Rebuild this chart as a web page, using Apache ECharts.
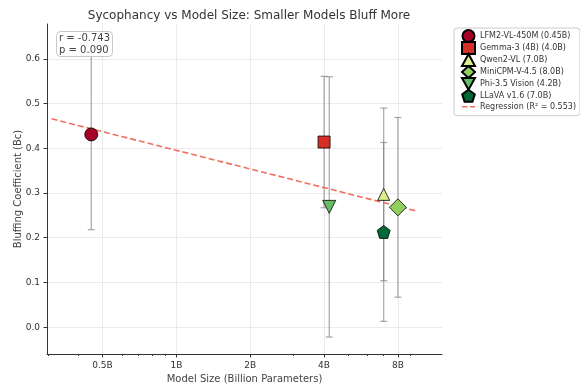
<!DOCTYPE html>
<html>
<head>
<meta charset="utf-8">
<script src="https://cdn.jsdelivr.net/npm/echarts@6/dist/echarts.min.js"></script>
<style>
  html, body { margin: 0; padding: 0; background: #fff; }
  #chart { width: 580px; height: 385px; }
</style>
</head>
<body>
<div id="chart"></div>
<script>
const models = [
  "LFM2-VL-450M (0.45B)",
  "Gemma-3 (4B) (4.0B)",
  "Qwen2-VL (7.0B)",
  "MiniCPM-V-4.5 (8.0B)",
  "Phi-3.5 Vision (4.2B)",
  "LLaVA v1.6 (7.0B)",
];
const sizes = [0.45, 4.0, 7.0, 8.0, 4.2, 7.0];
const bluffing = [0.431, 0.414, 0.297, 0.268, 0.269, 0.213];
const errors = [0.213, 0.147, 0.193, 0.201, 0.291, 0.2];
const colors = ["#a50026", "#d62f27", "#d9ef8b", "#91cf60", "#66bd63", "#006837"];
const symbols = [
  "circle",
  "rect",
  "triangle",
  "diamond",
  "path://M0,0 L100,0 L50,90 Z",
  "path://M50,0 L97.6,34.5 L79.4,90.5 L20.6,90.5 L2.4,34.5 Z",
];
const symbolSizes = [13, 12, 12, 17, 13, 13];

const regX = [0.31, 9.5];
const regY = [0.466, 0.26];

const xMajorTicks = [0.5, 1, 2, 4, 8];
const xMinorTicks = [0.3, 0.4, 0.6, 0.7, 0.8, 0.9, 3, 5, 6, 7, 9];
const yTicks = [0, 0.1, 0.2, 0.3, 0.4, 0.5, 0.6];

const FONT = "DejaVu Sans";
const TEXT = "#333";
const REG_NAME = "Regression (R² = 0.553)";
// dashed-line legend icon, with tiny corner dots to keep its box 13x12
const DASH_ICON =
  "path://M0,5.2h5.5v1.6h-5.5z M8,5.2h5v1.6h-5z M0,0h0.02v0.02h-0.02z M12.98,11.98h0.02v0.02h-0.02z";

const chart = echarts.init(document.getElementById("chart"), null, { renderer: "canvas" });

const errorSeries = {
  type: "custom",
  name: "errors",
  z: 1,
  silent: true,
  data: sizes.map((s, i) => [s, bluffing[i], errors[i]]),
  encode: { x: 0, y: 1 },
  renderItem(params, api) {
    const x = api.value(0);
    const y = api.value(1);
    const e = api.value(2);
    const top = api.coord([x, y + e]);
    const bot = api.coord([x, y - e]);
    const style = { stroke: "rgba(128,128,128,0.7)", lineWidth: 1.2 };
    const cap = 3.5;
    return {
      type: "group",
      children: [
        { type: "line", shape: { x1: top[0], y1: top[1], x2: bot[0], y2: bot[1] }, style },
        { type: "line", shape: { x1: top[0] - cap, y1: top[1], x2: top[0] + cap, y2: top[1] }, style },
        { type: "line", shape: { x1: bot[0] - cap, y1: bot[1], x2: bot[0] + cap, y2: bot[1] }, style },
      ],
    };
  },
};

const pointSeries = models.map((name, i) => ({
  type: "scatter",
  name,
  z: 4,
  data: [[sizes[i], bluffing[i]]],
  symbol: symbols[i],
  symbolSize: symbolSizes[i],
  itemStyle: { color: colors[i], borderColor: "#000", borderWidth: 0.8, opacity: 1 },
}));

const regressionSeries = {
  type: "line",
  name: REG_NAME,
  z: 3,
  data: regX.map((x, i) => [x, regY[i]]),
  symbol: "none",
  color: "#ef6f5e",
  lineStyle: { width: 1.6, type: [6, 3], color: "#ef6f5e" },
};

const option = {
  backgroundColor: "#fff",
  animation: false,
  textStyle: { fontFamily: FONT },
  title: [
    {
      text: "Sycophancy vs Model Size: Smaller Models Bluff More",
      left: 244,
      top: 5,
      textAlign: "center",
      textStyle: { fontFamily: FONT, fontSize: 12, fontWeight: "normal", color: "#333" },
    },
    {
      text: "r = -0.743\np = 0.090",
      left: 56,
      top: 31,
      padding: [2, 3, 1, 3],
      backgroundColor: "#fff",
      borderColor: "#c8c8c8",
      borderWidth: 1,
      borderRadius: 4,
      textStyle: { fontFamily: FONT, fontSize: 10, fontWeight: "normal", color: "#444", lineHeight: 11.5 },
    },
  ],
  legend: {
    orient: "vertical",
    left: 454,
    top: 28,
    itemWidth: 13,
    itemHeight: 12,
    itemGap: -2,
    padding: [1, 4, 3, 7],
    borderColor: "#ccc",
    borderWidth: 1,
    borderRadius: 3,
    backgroundColor: "#fff",
    textStyle: { fontFamily: FONT, fontSize: 8, color: TEXT, lineHeight: 12 },
    data: [
      ...models,
      { name: REG_NAME, icon: DASH_ICON, itemStyle: { color: "#ef6f5e", borderWidth: 0 } },
    ],
  },
  grid: { left: 47, right: 138, top: 24, bottom: 31, containLabel: false, outerBoundsMode: "none" },
  xAxis: [
    {
      type: "log",
      logBase: 2,
      min: 0.297,
      max: 12.1,
      name: "Model Size (Billion Parameters)",
      nameLocation: "middle",
      nameGap: 19,
      nameTextStyle: { fontFamily: FONT, fontSize: 10, color: "#444" },
      axisLine: { onZero: false, lineStyle: { color: "#333", width: 1 } },
      axisTick: { length: 3.5, customValues: xMajorTicks, lineStyle: { color: "#333" } },
      axisLabel: {
        customValues: xMajorTicks,
        margin: 7,
        fontFamily: FONT,
        fontSize: 9,
        color: TEXT,
        formatter: (v) => v + "B",
      },
      splitLine: { show: true, lineStyle: { color: "#e6e6e6", width: 0.8 } },
    },
    {
      type: "log",
      logBase: 2,
      min: 0.297,
      max: 12.1,
      position: "bottom",
      axisLine: { show: false, onZero: false },
      axisTick: { length: 2, customValues: xMinorTicks, lineStyle: { color: "#333" } },
      axisLabel: { show: false },
      splitLine: { show: false },
    },
  ],
  yAxis: {
    type: "value",
    min: -0.06,
    max: 0.678,
    name: "Bluffing Coefficient (Bc)",
    nameLocation: "middle",
    nameGap: 24,
    nameMoveOverlap: false,
    nameTextStyle: { fontFamily: FONT, fontSize: 10, color: "#444" },
    axisLine: { show: true, onZero: false, lineStyle: { color: "#333", width: 1 } },
    axisTick: { show: true, length: 3.5, customValues: yTicks, lineStyle: { color: "#333" } },
    axisLabel: {
      customValues: yTicks,
      margin: 7,
      fontFamily: FONT,
      fontSize: 9,
      color: TEXT,
      formatter: (v) => v.toFixed(1),
    },
    splitLine: { show: true, lineStyle: { color: "#e6e6e6", width: 0.8 } },
  },
  series: [errorSeries, regressionSeries, ...pointSeries],
};

chart.setOption(option);
</script>
</body>
</html>
